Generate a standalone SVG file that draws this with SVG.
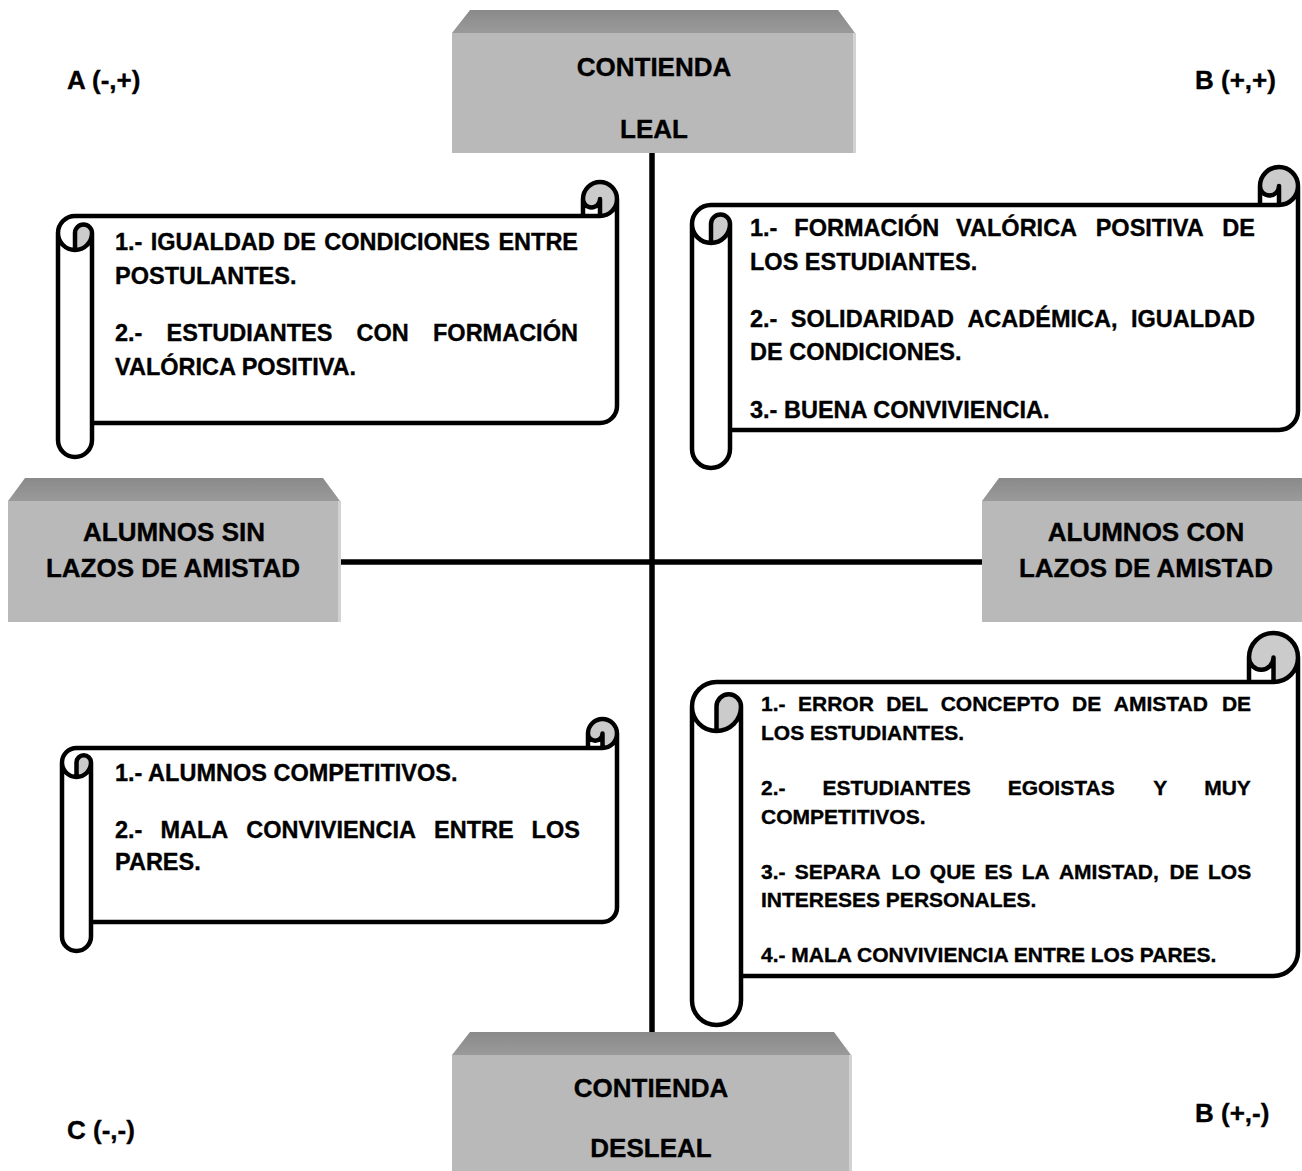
<svg xmlns="http://www.w3.org/2000/svg" width="1302" height="1171" viewBox="0 0 1302 1171">
<defs>
<linearGradient id="topface" x1="0" y1="0" x2="0" y2="1">
<stop offset="0" stop-color="#8a8a8a"/>
<stop offset="1" stop-color="#9a9a9a"/>
</linearGradient>
<style>
text{font-family:"Liberation Sans",Arial,sans-serif;font-weight:bold;fill:#000;stroke:#000;stroke-width:0.35}
.box{font-size:26px;text-anchor:middle}
.corner{font-size:26px}
.s1{font-size:23.5px}
.s3{font-size:21px}
.front{fill:#b9b9b9}
.top{fill:url(#topface)}
.edge{fill:#d2d2d2}
.paper{fill:#fff;stroke:none}
.curl{fill:#cbcbcb;stroke:none}
.outline{fill:none;stroke:#000;stroke-width:4.5;stroke-linejoin:round;stroke-linecap:round}
.axis{stroke:#000;stroke-width:5.5;fill:none}
</style>
</defs>
<rect width="1302" height="1171" fill="#fff"/>

<g id="connectors">
<line class="axis" x1="652" y1="150" x2="652" y2="1034"/>
<line class="axis" x1="338" y1="562" x2="984" y2="562"/>
</g>

<g id="node-leal">
<polygon class="top" points="470,10 838,10 855,33 452,33"/>
<rect class="front" x="452" y="33" width="403" height="120"/>
<rect class="edge" x="853" y="33" width="3" height="120"/>
<text class="box" x="654" y="76">CONTIENDA</text>
<text class="box" x="654" y="138">LEAL</text>
</g>

<g id="node-desleal">
<polygon class="top" points="470,1032 834,1032 851,1055 452,1055"/>
<rect class="front" x="452" y="1055" width="399" height="120"/>
<rect class="edge" x="849" y="1055" width="3" height="120"/>
<text class="box" x="651" y="1097">CONTIENDA</text>
<text class="box" x="651" y="1157">DESLEAL</text>
</g>

<g id="node-sin-lazos">
<polygon class="top" points="25,478 323,478 340,501 8,501"/>
<rect class="front" x="8" y="501" width="332" height="121"/>
<rect class="edge" x="338" y="501" width="3" height="121"/>
<text class="box" x="174" y="541">ALUMNOS SIN</text>
<text class="box" x="173" y="577">LAZOS DE AMISTAD</text>
</g>

<g id="node-con-lazos">
<polygon class="top" points="999,478 1305,478 1322,501 982,501"/>
<rect class="front" x="982" y="501" width="340" height="121"/>
<text class="box" x="1146" y="541">ALUMNOS CON</text>
<text class="box" x="1146" y="577">LAZOS DE AMISTAD</text>
</g>

<g id="label-a"><text class="corner" x="67" y="89">A (-,+)</text></g>
<g id="label-b1"><text class="corner" x="1195" y="89">B (+,+)</text></g>
<g id="label-c"><text class="corner" x="67" y="1139">C (-,-)</text></g>
<g id="label-b2"><text class="corner" x="1195" y="1122">B (+,-)</text></g>

<g id="scroll-a">
<g transform="translate(58,182)">
<path class="paper" d="M559,17 A17,17 0 0 1 542,34 L542,17 A8.5,8.5 0 0 1 525,17 L525,34 L17,34 A17,17 0 0 0 0,51 L0,258 A17,17 0 0 0 34,258 L34,241 L542,241 A17,17 0 0 0 559,224 Z"/>
<path class="curl" d="M17,68 A17,17 0 0 0 34,51 A8.5,8.5 0 0 0 17,51 Z M542,34 A17,17 0 1 0 525,17 A8.5,8.5 0 0 0 542,17 Z"/>
<path class="outline" d="M0,51 A17,17 0 0 1 17,34 L525,34 L525,17 A17,17 0 0 1 559,17 L559,224 A17,17 0 0 1 542,241 L34,241 L34,258 A17,17 0 0 1 0,258 Z M525,34 L542,34 A17,17 0 0 0 559,17 M542,34 L542,17 A8.5,8.5 0 0 1 525,17 M17,68 L17,51 A8.5,8.5 0 0 1 34,51 A17,17 0 0 1 0,51 M34,51 L34,241"/>
</g>
<text class="s1" y="250"><tspan x="115">1.-</tspan><tspan x="150.8">IGUALDAD</tspan><tspan x="283.2">DE</tspan><tspan x="324.2">CONDICIONES</tspan><tspan x="498.4">ENTRE</tspan></text>
<text class="s1" x="115" y="284">POSTULANTES.</text>
<text class="s1" y="341"><tspan x="115">2.-</tspan><tspan x="166.6">ESTUDIANTES</tspan><tspan x="356.6">CON</tspan><tspan x="433">FORMACIÓN</tspan></text>
<text class="s1" x="115" y="375">VALÓRICA POSITIVA.</text>
</g>

<g id="scroll-b">
<g transform="translate(692,167)">
<path class="paper" d="M606,19 A19,19 0 0 1 587,38 L587,19 A9.5,9.5 0 0 1 568,19 L568,38 L19,38 A19,19 0 0 0 0,57 L0,282 A19,19 0 0 0 38,282 L38,263 L587,263 A19,19 0 0 0 606,244 Z"/>
<path class="curl" d="M19,76 A19,19 0 0 0 38,57 A9.5,9.5 0 0 0 19,57 Z M587,38 A19,19 0 1 0 568,19 A9.5,9.5 0 0 0 587,19 Z"/>
<path class="outline" d="M0,57 A19,19 0 0 1 19,38 L568,38 L568,19 A19,19 0 0 1 606,19 L606,244 A19,19 0 0 1 587,263 L38,263 L38,282 A19,19 0 0 1 0,282 Z M568,38 L587,38 A19,19 0 0 0 606,19 M587,38 L587,19 A9.5,9.5 0 0 1 568,19 M19,76 L19,57 A9.5,9.5 0 0 1 38,57 A19,19 0 0 1 0,57 M38,57 L38,263"/>
</g>
<text class="s1" y="236"><tspan x="750">1.-</tspan><tspan x="794.3">FORMACIÓN</tspan><tspan x="956.1">VALÓRICA</tspan><tspan x="1095.7">POSITIVA</tspan><tspan x="1222.3">DE</tspan></text>
<text class="s1" x="750" y="270">LOS ESTUDIANTES.</text>
<text class="s1" y="327"><tspan x="750">2.-</tspan><tspan x="790.8">SOLIDARIDAD</tspan><tspan x="967.4">ACADÉMICA,</tspan><tspan x="1130.9">IGUALDAD</tspan></text>
<text class="s1" x="750" y="360">DE CONDICIONES.</text>
<text class="s1" x="750" y="418">3.- BUENA CONVIVIENCIA.</text>
</g>

<g id="scroll-d">
<g transform="translate(692,633)">
<path class="paper" d="M606,24.5 A24.5,24.5 0 0 1 581.5,49 L581.5,24.5 A12.25,12.25 0 0 1 557,24.5 L557,49 L24.5,49 A24.5,24.5 0 0 0 0,73.5 L0,367.5 A24.5,24.5 0 0 0 49,367.5 L49,343 L581.5,343 A24.5,24.5 0 0 0 606,318.5 Z"/>
<path class="curl" d="M24.5,98 A24.5,24.5 0 0 0 49,73.5 A12.25,12.25 0 0 0 24.5,73.5 Z M581.5,49 A24.5,24.5 0 1 0 557,24.5 A12.25,12.25 0 0 0 581.5,24.5 Z"/>
<path class="outline" d="M0,73.5 A24.5,24.5 0 0 1 24.5,49 L557,49 L557,24.5 A24.5,24.5 0 0 1 606,24.5 L606,318.5 A24.5,24.5 0 0 1 581.5,343 L49,343 L49,367.5 A24.5,24.5 0 0 1 0,367.5 Z M557,49 L581.5,49 A24.5,24.5 0 0 0 606,24.5 M581.5,49 L581.5,24.5 A12.25,12.25 0 0 1 557,24.5 M24.5,98 L24.5,73.5 A12.25,12.25 0 0 1 49,73.5 A24.5,24.5 0 0 1 0,73.5 M49,73.5 L49,343"/>
</g>
<text class="s3" y="711"><tspan x="761">1.-</tspan><tspan x="798">ERROR</tspan><tspan x="886.2">DEL</tspan><tspan x="940.7">CONCEPTO</tspan><tspan x="1072.1">DE</tspan><tspan x="1113.8">AMISTAD</tspan><tspan x="1221.9">DE</tspan></text>
<text class="s3" x="761" y="740">LOS ESTUDIANTES.</text>
<text class="s3" y="795"><tspan x="761">2.-</tspan><tspan x="822.5">ESTUDIANTES</tspan><tspan x="1007.7">EGOISTAS</tspan><tspan x="1153.2">Y</tspan><tspan x="1204.2">MUY</tspan></text>
<text class="s3" x="761" y="824">COMPETITIVOS.</text>
<text class="s3" y="879"><tspan x="761">3.-</tspan><tspan x="794.7">SEPARA</tspan><tspan x="891.4">LO</tspan><tspan x="929.8">QUE</tspan><tspan x="984.5">ES</tspan><tspan x="1021.7">LA</tspan><tspan x="1058.9">AMISTAD,</tspan><tspan x="1169.6">DE</tspan><tspan x="1208">LOS</tspan></text>
<text class="s3" x="761" y="907">INTERESES PERSONALES.</text>
<text class="s3" x="761" y="962">4.- MALA CONVIVIENCIA ENTRE LOS PARES.</text>
</g>

<g id="scroll-c">
<g transform="translate(62,719)">
<path class="paper" d="M555,14.5 A14.5,14.5 0 0 1 540.5,29 L540.5,14.5 A7.25,7.25 0 0 1 526,14.5 L526,29 L14.5,29 A14.5,14.5 0 0 0 0,43.5 L0,217.5 A14.5,14.5 0 0 0 29,217.5 L29,203 L540.5,203 A14.5,14.5 0 0 0 555,188.5 Z"/>
<path class="curl" d="M14.5,58 A14.5,14.5 0 0 0 29,43.5 A7.25,7.25 0 0 0 14.5,43.5 Z M540.5,29 A14.5,14.5 0 1 0 526,14.5 A7.25,7.25 0 0 0 540.5,14.5 Z"/>
<path class="outline" d="M0,43.5 A14.5,14.5 0 0 1 14.5,29 L526,29 L526,14.5 A14.5,14.5 0 0 1 555,14.5 L555,188.5 A14.5,14.5 0 0 1 540.5,203 L29,203 L29,217.5 A14.5,14.5 0 0 1 0,217.5 Z M526,29 L540.5,29 A14.5,14.5 0 0 0 555,14.5 M540.5,29 L540.5,14.5 A7.25,7.25 0 0 1 526,14.5 M14.5,58 L14.5,43.5 A7.25,7.25 0 0 1 29,43.5 A14.5,14.5 0 0 1 0,43.5 M29,43.5 L29,203"/>
</g>
<text class="s1" x="115" y="781">1.- ALUMNOS COMPETITIVOS.</text>
<text class="s1" y="838"><tspan x="115">2.-</tspan><tspan x="160.4">MALA</tspan><tspan x="246.3">CONVIVIENCIA</tspan><tspan x="434">ENTRE</tspan><tspan x="531.6">LOS</tspan></text>
<text class="s1" x="115" y="870">PARES.</text>
</g>
</svg>
